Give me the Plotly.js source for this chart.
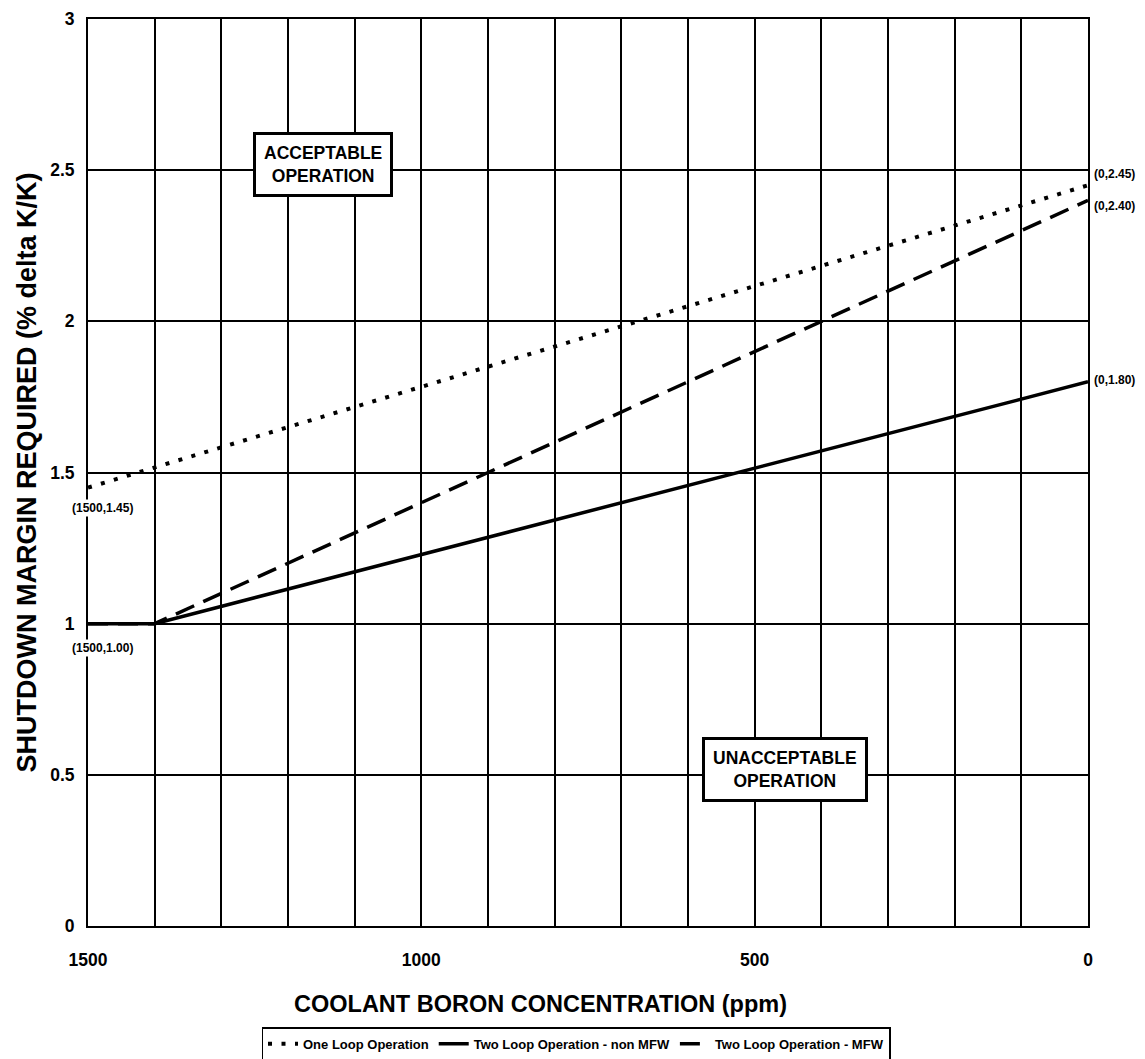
<!DOCTYPE html>
<html>
<head>
<meta charset="utf-8">
<script src="https://cdn.plot.ly/plotly-3.0.1.min.js"></script>
<style>html,body{margin:0;padding:0;background:#fff;}#chart{width:1145px;height:1059px;}</style>
</head>
<body>
<div id="chart"></div>
<script>
// Data
var boronOneLoop = [1500, 0];
var smOneLoop = [1.45, 2.45];
var boronTwoLoop = [1500, 1400, 0];
var smTwoLoopNonMFW = [1.00, 1.00, 1.80];
var smTwoLoopMFW = [1.00, 1.00, 2.40];
var seriesNames = ['One Loop Operation', 'Two Loop Operation - non MFW', 'Two Loop Operation - MFW'];
var xTickVals = [1500, 1000, 500, 0];
var xTickText = ['1500', '1000', '500', '0'];
var yTickVals = [0, 0.5, 1, 1.5, 2, 2.5, 3];
var yTickText = ['0', '0.5', '1', '1.5', '2', '2.5', '3'];
var pointLabels = [
  {x: 0, y: 2.45, text: '(0,2.45)'},
  {x: 0, y: 2.40, text: '(0,2.40)'},
  {x: 0, y: 1.80, text: '(0,1.80)'},
  {x: 1500, y: 1.45, text: '(1500,1.45)'},
  {x: 1500, y: 1.00, text: '(1500,1.00)'}
];
var regionLabels = [
  {x: 1147, y: 2.52, text: 'ACCEPTABLE<br>OPERATION'},
  {x: 455, y: 0.518, text: 'UNACCEPTABLE<br>OPERATION'}
];
var xTitle = 'COOLANT BORON CONCENTRATION (ppm)';
var yTitle = 'SHUTDOWN MARGIN REQUIRED (% delta K/K)';

var FONT = 'Liberation Sans, Arial, sans-serif';

var traces = [
  {x: boronOneLoop, y: smOneLoop, name: seriesNames[0], mode: 'lines',
   line: {color: '#000', width: 4, dash: '4px,9.5px'}},
  {x: boronTwoLoop, y: smTwoLoopNonMFW, name: seriesNames[1], mode: 'lines',
   line: {color: '#000', width: 3.5}},
  {x: boronTwoLoop, y: smTwoLoopMFW, name: seriesNames[2], mode: 'lines',
   line: {color: '#000', width: 3.5, dash: '20px,10px'}}
];

// vertical offsets (px) of the coordinate labels relative to their point
var labelShift = {'(0,2.45)': 11, '(0,2.40)': -6, '(0,1.80)': 2, '(1500,1.45)': -20, '(1500,1.00)': -24};

var annotations = [];
pointLabels.forEach(function(p) {
  var atRight = p.x === 0;
  annotations.push({
    x: p.x, y: p.y, xref: 'x', yref: 'y', text: p.text, showarrow: false,
    xanchor: atRight ? 'left' : 'center', yanchor: 'middle',
    xshift: atRight ? 4 : 14, yshift: labelShift[p.text],
    bgcolor: atRight ? 'rgba(0,0,0,0)' : '#fff', borderpad: 1,
    font: {family: FONT, size: 12, color: '#000', weight: 'bold'}
  });
});
regionLabels.forEach(function(r) {
  annotations.push({
    x: r.x, y: r.y, xref: 'x', yref: 'y', text: '<b>' + r.text + '</b>', showarrow: false,
    bgcolor: '#fff', bordercolor: '#000', borderwidth: 3, borderpad: 8,
    font: {family: FONT, size: 17.5, color: '#000'}
  });
});
annotations.push({
  xref: 'paper', yref: 'paper', x: 0.452, y: -0.0855, xanchor: 'center', yanchor: 'middle',
  text: '<b>' + xTitle + '</b>', showarrow: false,
  font: {family: FONT, size: 23.5, color: '#000'}
});

var layout = {
  width: 1145, height: 1059,
  margin: {l: 88, r: 57, t: 19, b: 133},
  paper_bgcolor: '#fff', plot_bgcolor: '#fff',
  font: {family: FONT, color: '#000'},
  showlegend: true,
  legend: {
    orientation: 'h', xref: 'paper', x: 0.488, xanchor: 'center',
    yref: 'container', y: 0.030, yanchor: 'top',
    bordercolor: '#000', borderwidth: 1.5, bgcolor: '#fff',
    font: {family: FONT, size: 13, color: '#000', weight: 'bold'},
    tracegroupgap: 0
  },
  xaxis: {
    range: [1500, 0], autorange: false, automargin: false,
    tickvals: xTickVals, ticktext: xTickText, ticks: '',
    showgrid: true, gridcolor: '#000', gridwidth: 2,
    minor: {dtick: 100, showgrid: true, gridcolor: '#000', gridwidth: 2, ticks: ''},
    showline: true, linecolor: '#000', linewidth: 2, mirror: true,
    zeroline: false,
    tickfont: {family: FONT, size: 17.5, color: '#000', weight: 'bold'},
    ticklabelstandoff: 17
  },
  yaxis: {
    range: [0, 3], autorange: false, automargin: false,
    tickvals: yTickVals, ticktext: yTickText, ticks: '',
    showgrid: true, gridcolor: '#000', gridwidth: 2,
    showline: true, linecolor: '#000', linewidth: 2, mirror: true,
    zeroline: false,
    tickfont: {family: FONT, size: 17.5, color: '#000', weight: 'bold'},
    ticklabelstandoff: 8,
    title: {text: yTitle, standoff: 6,
            font: {family: FONT, size: 27, color: '#000', weight: 'bold'}}
  },
  annotations: annotations
};

Plotly.newPlot('chart', traces, layout, {displayModeBar: false, staticPlot: true});
</script>
</body>
</html>
